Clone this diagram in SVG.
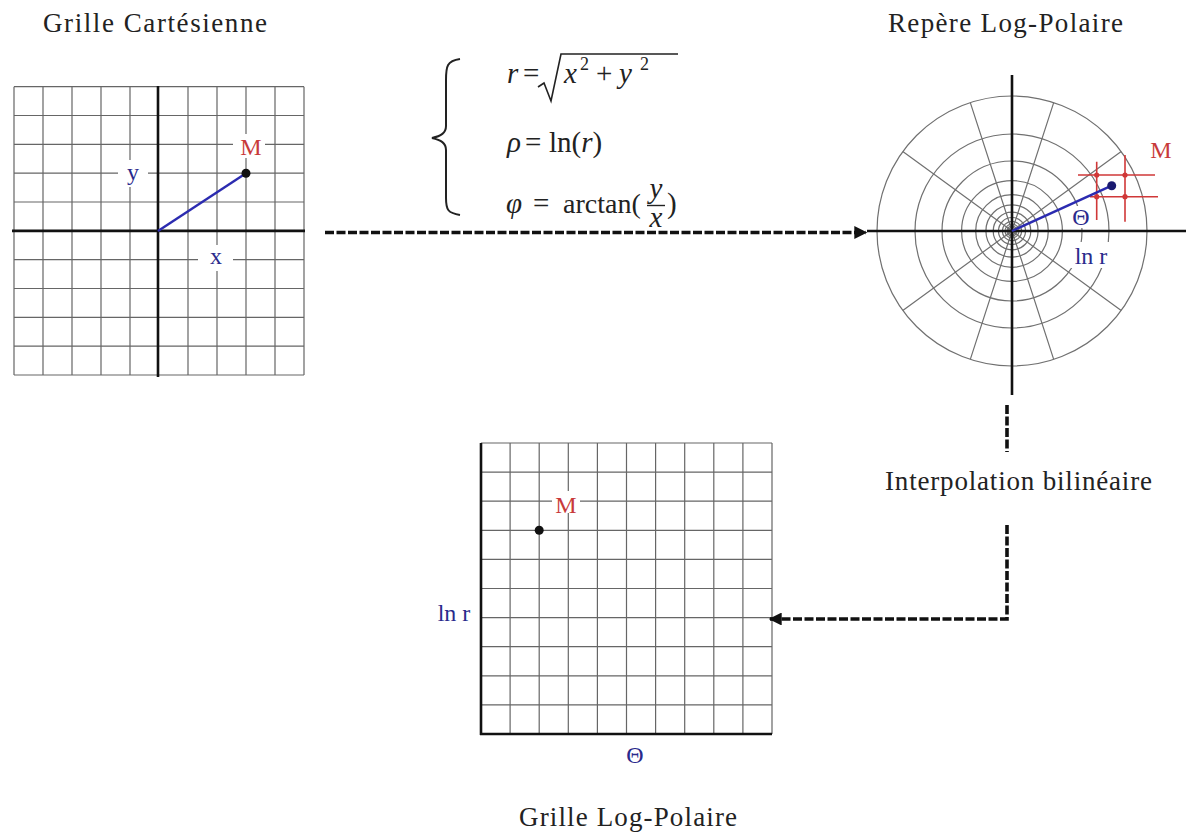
<svg xmlns="http://www.w3.org/2000/svg" width="1186" height="834" viewBox="0 0 1186 834">
<defs>
<style>
text{font-family:"Liberation Serif","Times New Roman",serif}
.title{font-size:27px;fill:#222}
.lbl{font-size:24px}
.red{fill:#c83a3a}
.blue{fill:#2a2a8c}
.grid{stroke:#666;stroke-width:1.2;fill:none}
.axis{stroke:#111;stroke-width:2.6;fill:none}
.pgrid{stroke:#707070;stroke-width:1.2;fill:none}
.rline{stroke:#d03838;stroke-width:1.6}
.conn{stroke:#111;stroke-width:3.6;fill:none;stroke-dasharray:9 2.5}
.f{font-size:29px;fill:#222}
.fi{font-style:italic}
</style>
<marker id="arr" viewBox="0 0 10 10" refX="9" refY="5" markerWidth="4.6" markerHeight="3.6" orient="auto" markerUnits="strokeWidth">
<path d="M0,0 L10,5 L0,10 Z" fill="#111"/>
</marker>
</defs>
<rect width="1186" height="834" fill="#fff"/>

<g id="cartesian">
<text class="title" font-family="Liberation Serif, serif" x="43" y="31.5" textLength="224">Grille Cartésienne</text>
<path class="grid" d="M14,86.7V375 M43,86.7V375 M72,86.7V375 M101,86.7V375 M130,86.7V375 M188,86.7V375 M217,86.7V375 M246,86.7V375 M275,86.7V375 M304,86.7V375
M14,86.7H304 M14,115.5H304 M14,144.4H304 M14,173.2H304 M14,202H304 M14,259.7H304 M14,288.5H304 M14,317.4H304 M14,346.2H304 M14,375H304"/>
<path class="axis" d="M12,230.9H305 M158,86V377"/>
<line x1="158" y1="230.9" x2="246" y2="173.2" stroke="#2b2bb0" stroke-width="2.4"/>
<circle cx="246" cy="173.2" r="4.5" fill="#111"/>
<rect x="233" y="134" width="32" height="24" fill="#fff"/>
<text class="lbl red" font-family="Liberation Serif, serif" x="251" y="155" text-anchor="middle">M</text>
<rect x="118" y="160" width="30" height="27" fill="#fff"/>
<text class="lbl blue" font-family="Liberation Serif, serif" x="133" y="180" text-anchor="middle">y</text>
<rect x="198" y="245" width="35" height="26" fill="#fff"/>
<text class="lbl blue" font-family="Liberation Serif, serif" x="216" y="264" text-anchor="middle">x</text>
</g>

<g id="formulas">
<path d="M460,59 C447,61 446,66 446,80 L446,126 C446,133 441,136 432,138 C441,140 446,143 446,150 L446,198 C446,210 448,213 460,215" fill="none" stroke="#222" stroke-width="2"/>
<text class="f" font-family="Liberation Serif, serif" y="83"><tspan x="507" class="fi">r</tspan><tspan x="523">=</tspan><tspan x="564" class="fi">x</tspan><tspan x="580" y="70" font-size="18">2</tspan><tspan x="596" y="83">+</tspan><tspan x="619" class="fi">y</tspan><tspan x="640" y="70" font-size="18">2</tspan></text>
<path d="M538,87 L544,83 L551,101 L561,54 H678" fill="none" stroke="#222" stroke-width="1.6"/>
<text class="f" font-family="Liberation Serif, serif" y="152"><tspan x="507" class="fi">ρ</tspan><tspan x="525">=</tspan><tspan x="549">ln(</tspan><tspan class="fi">r</tspan><tspan>)</tspan></text>
<text class="f" font-family="Liberation Serif, serif" y="213"><tspan x="506" class="fi">φ</tspan><tspan x="533">=</tspan><tspan x="563" font-size="28">arctan(</tspan></text>
<text class="f fi" font-family="Liberation Serif, serif" x="656" y="198" font-size="21" text-anchor="middle">y</text>
<line x1="647" y1="205.5" x2="665" y2="205.5" stroke="#222" stroke-width="1.4"/>
<text class="f fi" font-family="Liberation Serif, serif" x="656" y="227" font-size="19" text-anchor="middle">x</text>
<text class="f" font-family="Liberation Serif, serif" x="667" y="213">)</text>
</g>

<g id="logpolar-frame">
<text class="title" font-family="Liberation Serif, serif" x="888" y="31.5" textLength="235">Repère Log-Polaire</text>
<g class="pgrid">
<circle cx="1012" cy="231" r="135"/>
<circle cx="1012" cy="231" r="97"/>
<circle cx="1012" cy="231" r="70"/>
<circle cx="1012" cy="231" r="50.4"/>
<circle cx="1012" cy="231" r="36.3"/>
<circle cx="1012" cy="231" r="26.1"/>
<circle cx="1012" cy="231" r="18.8"/>
<circle cx="1012" cy="231" r="13.5"/>
<circle cx="1012" cy="231" r="9.7"/>
<circle cx="1012" cy="231" r="7"/>
<circle cx="1012" cy="231" r="5"/>
<circle cx="1012" cy="231" r="3.6"/>
<path d="M1012,231L1121.2,151.6 M1012,231L1053.7,102.6 M1012,231L970.3,102.6 M1012,231L902.8,151.6 M1012,231L902.8,310.4 M1012,231L970.3,359.4 M1012,231L1053.7,359.4 M1012,231L1121.2,310.4"/>
</g>
<path class="axis" d="M867,231H1186 M1012,75V395"/>
<path class="rline" d="M1078,175H1155 M1090,196.7H1158 M1096.7,161.7V220 M1125,155V221.7"/>
<g fill="#d03838">
<circle cx="1096.7" cy="175" r="2.6"/><circle cx="1125" cy="175" r="2.6"/>
<circle cx="1096.7" cy="196.7" r="2.6"/><circle cx="1125" cy="196.7" r="2.6"/>
</g>
<line x1="1012" y1="231" x2="1111.7" y2="185.7" stroke="#2b2bb0" stroke-width="2.4"/>
<circle cx="1111.7" cy="185.7" r="4.5" fill="#1a1a70"/>
<text class="lbl red" font-family="Liberation Serif, serif" x="1161" y="158" text-anchor="middle">M</text>
<rect x="1071" y="206" width="21" height="22" fill="#fff"/>
<text class="lbl blue" font-family="Liberation Serif, serif" x="1081" y="225" text-anchor="middle">Θ</text>
<rect x="1069" y="242" width="44" height="26" fill="#fff"/>
<text class="lbl blue" font-family="Liberation Serif, serif" x="1091" y="264" text-anchor="middle">ln r</text>
</g>

<g id="logpolar-grid">
<path class="grid" d="M510.1,443V734 M539.2,443V734 M568.3,443V734 M597.4,443V734 M626.5,443V734 M655.6,443V734 M684.7,443V734 M713.8,443V734 M742.9,443V734 M772,443V734
M481,443H772 M481,472.1H772 M481,501.2H772 M481,530.3H772 M481,559.4H772 M481,588.5H772 M481,617.6H772 M481,646.7H772 M481,675.8H772 M481,704.9H772"/>
<path class="axis" d="M481,443V735 M480,734H772"/>
<circle cx="539.2" cy="530.3" r="4.5" fill="#111"/>
<rect x="552" y="491" width="28" height="22" fill="#fff"/>
<text class="lbl red" font-family="Liberation Serif, serif" x="566" y="513" text-anchor="middle">M</text>
<text class="lbl blue" font-family="Liberation Serif, serif" x="454" y="621" text-anchor="middle">ln r</text>
<text class="lbl blue" font-family="Liberation Serif, serif" x="635" y="763" text-anchor="middle">Θ</text>
<text class="title" font-family="Liberation Serif, serif" x="628" y="826" text-anchor="middle" textLength="218">Grille Log-Polaire</text>
</g>

<g id="interp-label">
<text class="title" font-family="Liberation Serif, serif" x="885" y="490" textLength="267">Interpolation bilinéaire</text>
</g>

<g id="connectors">
<path class="conn" d="M325,232.5H866" marker-end="url(#arr)"/>
<path class="conn" d="M1007,405V452 M1007,525V619H770" marker-end="url(#arr)"/>
</g>
</svg>
